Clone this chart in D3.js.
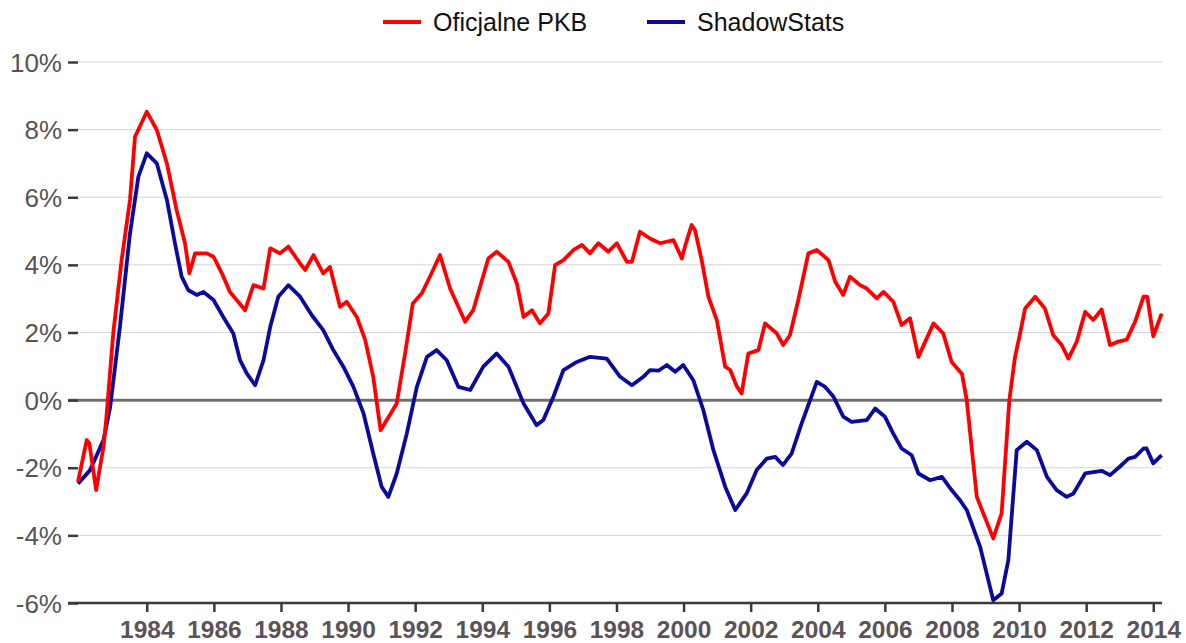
<!DOCTYPE html>
<html>
<head>
<meta charset="utf-8">
<script src="https://cdn.jsdelivr.net/npm/d3@7"></script>
<style>
  body { margin: 0; background: #fff; }
  svg { display: block; font-family: "Liberation Sans", Arial, sans-serif; }
  .grid line { stroke: #d6d3d6; stroke-width: 1; }
  .axis--y text { font-size: 26px; fill: #555; }
  .axis--x text { font-size: 24.5px; font-weight: bold; fill: #5a5458; }
  .axis line, .axis path { stroke: #3a3a3a; stroke-width: 2.5; }
</style>
</head>
<body>
<svg width="1186" height="643"></svg>
<script>
// Real GDP growth: official vs ShadowStats
var pkbYears = [1981.95, 1982.21, 1982.29, 1982.49, 1982.71, 1982.79, 1983.00, 1983.25, 1983.50, 1983.65,
  1984.00, 1984.30, 1984.60, 1984.89, 1985.14, 1985.27, 1985.44, 1985.79, 1985.99, 1986.24,
  1986.48, 1986.68, 1986.93, 1987.18, 1987.33, 1987.48, 1987.68, 1987.97, 1988.22, 1988.57,
  1988.72, 1988.97, 1989.26, 1989.46, 1989.76, 1989.96, 1990.26, 1990.51, 1990.75, 1990.97,
  1991.45, 1991.70, 1991.93, 1992.20, 1992.44, 1992.74, 1993.04, 1993.49, 1993.73, 1994.18,
  1994.43, 1994.78, 1995.03, 1995.23, 1995.48, 1995.72, 1995.97, 1996.17, 1996.42, 1996.72,
  1996.97, 1997.21, 1997.46, 1997.76, 1998.01, 1998.31, 1998.46, 1998.70, 1999.00, 1999.30,
  1999.70, 1999.95, 2000.04, 2000.24, 2000.34, 2000.54, 2000.74, 2000.99, 2001.24, 2001.39,
  2001.59, 2001.73, 2001.93, 2002.23, 2002.43, 2002.78, 2002.97, 2003.17, 2003.42, 2003.72,
  2003.97, 2004.32, 2004.52, 2004.76, 2004.96, 2005.26, 2005.46, 2005.76, 2005.96, 2006.25,
  2006.50, 2006.75, 2007.00, 2007.45, 2007.74, 2007.99, 2008.30, 2008.44, 2008.74, 2009.23,
  2009.48, 2009.71, 2009.88, 2010.03, 2010.18, 2010.48, 2010.77, 2011.02, 2011.27, 2011.47,
  2011.72, 2011.97, 2012.21, 2012.46, 2012.71, 2012.96, 2013.21, 2013.46, 2013.71, 2013.82,
  2014.00, 2014.25];
var pkbValues = [-2.42, -1.18, -1.28, -2.66, -1.38, -0.59, 1.97, 4.14, 5.92, 7.79,
  8.53, 7.99, 7.00, 5.62, 4.64, 3.75, 4.34, 4.34, 4.24, 3.75,
  3.20, 2.96, 2.66, 3.40, 3.35, 3.30, 4.49, 4.34, 4.54, 4.04,
  3.85, 4.29, 3.75, 3.94, 2.76, 2.91, 2.46, 1.78, 0.69, -0.89,
  -0.10, 1.38, 2.86, 3.16, 3.65, 4.29, 3.30, 2.32, 2.66, 4.19,
  4.39, 4.09, 3.45, 2.46, 2.66, 2.27, 2.56, 3.99, 4.14, 4.44,
  4.59, 4.34, 4.64, 4.39, 4.64, 4.09, 4.09, 4.98, 4.78, 4.64,
  4.73, 4.19, 4.54, 5.18, 5.03, 4.14, 3.06, 2.37, 0.99, 0.89,
  0.40, 0.20, 1.38, 1.48, 2.27, 1.97, 1.63, 1.92, 2.96, 4.34,
  4.44, 4.14, 3.50, 3.11, 3.65, 3.40, 3.30, 3.01, 3.20, 2.91,
  2.22, 2.42, 1.28, 2.27, 1.97, 1.13, 0.77, 0.00, -2.86, -4.09,
  -3.35, 0.00, 1.28, 1.97, 2.71, 3.06, 2.71, 1.92, 1.63, 1.23,
  1.73, 2.61, 2.37, 2.68, 1.63, 1.73, 1.79, 2.32, 3.06, 3.06,
  1.89, 2.56];

var shadowYears = [1981.95, 1982.31, 1982.71, 1982.91, 1983.20, 1983.50, 1983.75, 1984.00, 1984.30, 1984.60,
  1984.84, 1985.04, 1985.24, 1985.49, 1985.69, 1985.99, 1986.28, 1986.58, 1986.78, 1986.98,
  1987.23, 1987.48, 1987.68, 1987.92, 1988.22, 1988.57, 1988.92, 1989.26, 1989.56, 1989.86,
  1990.16, 1990.46, 1990.75, 1991.00, 1991.20, 1991.45, 1991.75, 1992.05, 1992.35, 1992.64,
  1992.94, 1993.29, 1993.64, 1994.03, 1994.43, 1994.78, 1995.23, 1995.62, 1995.82, 1996.12,
  1996.42, 1996.82, 1997.21, 1997.71, 1998.11, 1998.46, 1998.80, 1999.00, 1999.25, 1999.50,
  1999.75, 1999.99, 2000.29, 2000.59, 2000.89, 2001.24, 2001.54, 2001.88, 2002.18, 2002.48,
  2002.73, 2002.96, 2003.22, 2003.52, 2003.97, 2004.22, 2004.47, 2004.76, 2005.01, 2005.46,
  2005.71, 2006.00, 2006.25, 2006.50, 2006.80, 2007.00, 2007.35, 2007.70, 2007.99, 2008.24,
  2008.44, 2008.84, 2009.23, 2009.48, 2009.68, 2009.93, 2010.23, 2010.53, 2010.83, 2011.12,
  2011.42, 2011.62, 2011.97, 2012.46, 2012.71, 2013.00, 2013.26, 2013.46, 2013.71, 2013.80,
  2014.00, 2014.25];
var shadowValues = [-2.47, -2.07, -1.18, -0.20, 2.17, 4.93, 6.61, 7.30, 7.00, 5.92,
  4.64, 3.65, 3.25, 3.11, 3.20, 2.96, 2.46, 1.97, 1.18, 0.79,
  0.44, 1.18, 2.17, 3.06, 3.40, 3.06, 2.51, 2.07, 1.48, 0.99,
  0.39, -0.39, -1.58, -2.56, -2.86, -2.17, -0.99, 0.39, 1.28, 1.48,
  1.18, 0.39, 0.30, 0.99, 1.38, 0.99, -0.10, -0.74, -0.59, 0.10,
  0.89, 1.13, 1.28, 1.23, 0.69, 0.44, 0.69, 0.89, 0.87, 1.04,
  0.84, 1.04, 0.59, -0.30, -1.48, -2.56, -3.25, -2.76, -2.07, -1.73,
  -1.68, -1.92, -1.58, -0.69, 0.54, 0.39, 0.10, -0.49, -0.64, -0.59,
  -0.25, -0.49, -0.99, -1.43, -1.63, -2.17, -2.37, -2.27, -2.66, -2.96,
  -3.25, -4.34, -5.92, -5.72, -4.73, -1.48, -1.23, -1.48, -2.27, -2.66,
  -2.86, -2.76, -2.17, -2.09, -2.22, -1.97, -1.73, -1.68, -1.43, -1.43,
  -1.87, -1.63];

var yearTicks = [1984, 1986, 1988, 1990, 1992, 1994, 1996, 1998, 2000, 2002, 2004, 2006, 2008, 2010, 2012, 2014];
var pctTicks = [-6, -4, -2, 0, 2, 4, 6, 8, 10];
var seriesNames = ["Oficjalne PKB", "ShadowStats"];
var seriesColors = ["#ff0000", "#0a0a9c"];

var svg = d3.select("svg");

var x = d3.scaleLinear().domain([1981.95, 2014.26]).range([78, 1162]),
    y = d3.scaleLinear().domain([-6, 10]).range([603, 62]);

// gridlines
svg.append("g")
    .attr("class", "grid")
  .selectAll("line")
  .data(pctTicks.filter(function(d) { return d !== 0 && d !== -6; }))
  .enter().append("line")
    .attr("x1", x.range()[0])
    .attr("x2", x.range()[1])
    .attr("y1", function(d) { return y(d); })
    .attr("y2", function(d) { return y(d); });

// zero line
svg.append("line")
    .attr("x1", 68)
    .attr("x2", x.range()[1])
    .attr("y1", y(0))
    .attr("y2", y(0))
    .attr("stroke", "#707070")
    .attr("stroke-width", 3);

// y axis (ticks only, no domain line)
var gy = svg.append("g")
    .attr("class", "axis axis--y")
    .attr("transform", "translate(78,0)")
    .call(d3.axisLeft(y).tickValues(pctTicks).tickSize(10).tickPadding(6)
      .tickFormat(function(d) { return d + "%"; }));
gy.select(".domain").remove();
gy.selectAll("text").attr("dy", "0.35em");

// x axis
var gx = svg.append("g")
    .attr("class", "axis axis--x")
    .attr("transform", "translate(0," + y(-6) + ")")
    .call(d3.axisBottom(x).tickValues(yearTicks).tickSize(9).tickSizeOuter(0).tickPadding(5)
      .tickFormat(d3.format("d")));
gx.select(".domain").attr("d", "M68,0H" + x.range()[1]).attr("stroke", "#333");
gx.selectAll("text").attr("dy", "0.85em");

// lines
var line = d3.line()
    .x(function(d) { return x(d[0]); })
    .y(function(d) { return y(d[1]); });

var shadowData = d3.zip(shadowYears, shadowValues),
    pkbData = d3.zip(pkbYears, pkbValues);

svg.append("path")
    .datum(shadowData)
    .attr("fill", "none")
    .attr("stroke", seriesColors[1])
    .attr("stroke-width", 3.8)
    .attr("stroke-linejoin", "round")
    .attr("d", line);

svg.append("path")
    .datum(pkbData)
    .attr("fill", "none")
    .attr("stroke", seriesColors[0])
    .attr("stroke-width", 3.8)
    .attr("stroke-linejoin", "round")
    .attr("d", line);

// legend
var legendX = [383, 647];
var legend = svg.append("g").attr("class", "legend");
legend.selectAll("line")
  .data(seriesNames)
  .enter().append("line")
    .attr("x1", function(d, i) { return legendX[i]; })
    .attr("x2", function(d, i) { return legendX[i] + 38; })
    .attr("y1", 22)
    .attr("y2", 22)
    .attr("stroke", function(d, i) { return seriesColors[i]; })
    .attr("stroke-width", 4);
legend.selectAll("text")
  .data(seriesNames)
  .enter().append("text")
    .attr("x", function(d, i) { return legendX[i] + 50; })
    .attr("y", 22)
    .attr("dy", "0.35em")
    .attr("font-size", 25)
    .attr("fill", "#111")
    .text(function(d) { return d; });
</script>
</body>
</html>
